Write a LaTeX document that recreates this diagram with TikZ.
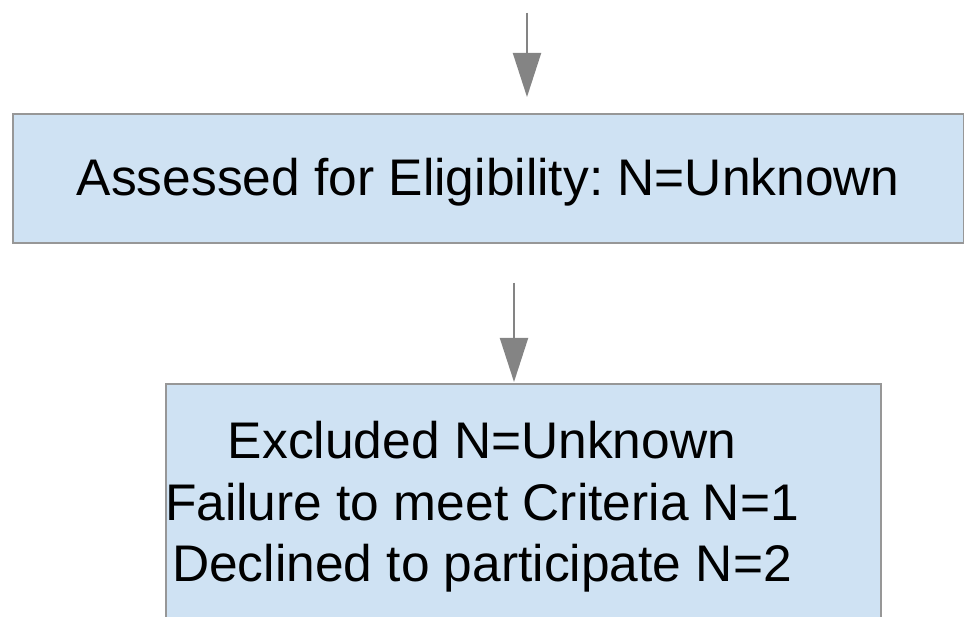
\documentclass[tikz,border=0pt]{standalone}
\usepackage{fontspec}
\setmainfont{Liberation Sans}
\usetikzlibrary{arrows.meta,positioning}
\frenchspacing

\definecolor{boxfill}{HTML}{CFE2F3}
\definecolor{boxline}{HTML}{979797}
\definecolor{arrgrey}{HTML}{848484}

\begin{document}
\begin{tikzpicture}[
  x=1pt,y=-1pt,
  box/.style={draw=boxline, fill=boxfill, line width=1.6pt, inner sep=0pt, anchor=north west},
  txt/.style={font=\fontsize{51.5}{61.5}\selectfont, align=center, inner sep=0pt},
  arr/.style={-{Triangle[length=44pt,width=28pt]}, draw=arrgrey, fill=arrgrey, line width=2pt}
]
\useasboundingbox (0,0) rectangle (964,617);
\clip (0,0) rectangle (964,617);
% boxes
\node[box, txt, minimum width=951pt, minimum height=129pt, text height=40pt, text depth=5pt] (assess) at (12,113) {Assessed for Eligibility: N=Unknown};
\node[box, minimum width=715pt, minimum height=280pt] (excl) at (165,383) {};
\node[txt] (excltxt) at (482,507) {Excluded N=Unknown\\Failure to meet Criteria N=1\\Declined to participate N=2};
% arrows
\coordinate (in1) at (527,13);
\coordinate (in2) at (514,283);
\draw[arr] (in1) -- ([yshift=16pt]in1 |- assess.north);
\draw[arr] (in2) -- ([yshift=1pt]in2 |- excl.north);
\end{tikzpicture}
\end{document}
